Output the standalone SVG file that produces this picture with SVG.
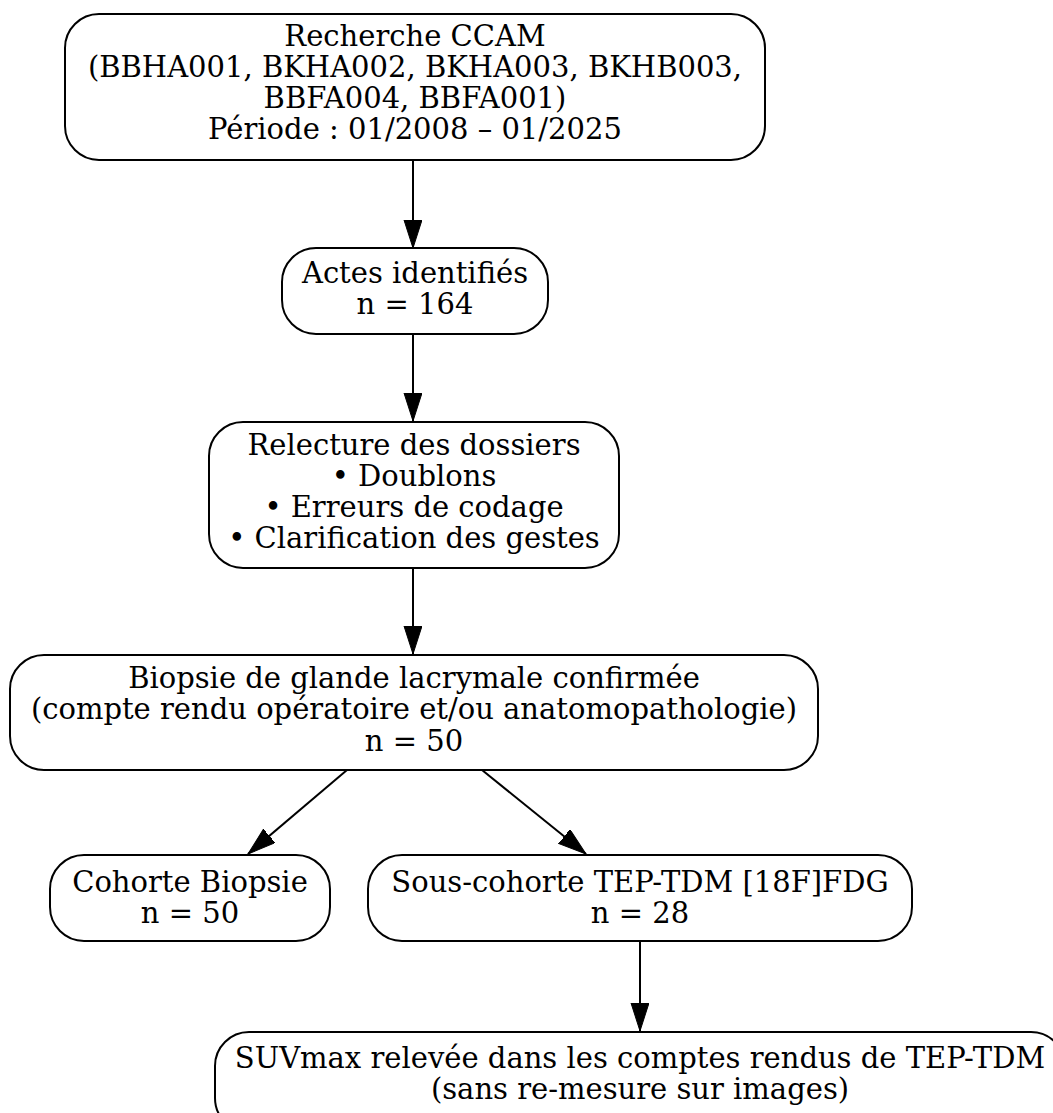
<svg xmlns="http://www.w3.org/2000/svg" width="1053" height="1113" viewBox="0 0 1053 1113">
<defs>
<style>
.n rect{fill:#fff;stroke:#000;stroke-width:2}
.n text{font-family:"DejaVu Serif","Liberation Serif",serif;font-size:29px;fill:#000;text-anchor:middle}
.e line{stroke:#000;stroke-width:2}
</style>
<marker id="ah" markerUnits="userSpaceOnUse" markerWidth="30" markerHeight="20" refX="28" refY="9" orient="auto">
<path d="M0,0 L28,9 L0,18 Z" fill="#000" stroke="#000" stroke-width="1"/>
</marker>
</defs>
<rect width="1053" height="1113" fill="#fff"/>
<g class="e" id="edges">
<line x1="413" y1="160" x2="413" y2="248" marker-end="url(#ah)"/>
<line x1="413" y1="334" x2="413" y2="421" marker-end="url(#ah)"/>
<line x1="413" y1="568" x2="413" y2="654" marker-end="url(#ah)"/>
<line x1="347" y1="770" x2="248" y2="854" marker-end="url(#ah)"/>
<line x1="482" y1="770" x2="586" y2="854" marker-end="url(#ah)"/>
<line x1="640" y1="941" x2="640" y2="1031" marker-end="url(#ah)"/>
</g>
<g class="n" id="n1">
<rect x="65" y="14" width="700" height="146" rx="34"/>
<text x="415" y="46">Recherche CCAM</text>
<text x="415" y="77">(BBHA001, BKHA002, BKHA003, BKHB003,</text>
<text x="415" y="108">BBFA004, BBFA001)</text>
<text x="415" y="139">Période : 01/2008 – 01/2025</text>
</g>
<g class="n" id="n2">
<rect x="282" y="248" width="266" height="86" rx="34"/>
<text x="415" y="283">Actes identifiés</text>
<text x="415" y="314">n = 164</text>
</g>
<g class="n" id="n3">
<rect x="209" y="422" width="410" height="146" rx="34"/>
<text x="414" y="455">Relecture des dossiers</text>
<text x="414" y="486">• Doublons</text>
<text x="414" y="517">• Erreurs de codage</text>
<text x="414" y="548">• Clarification des gestes</text>
</g>
<g class="n" id="n4">
<rect x="10" y="655" width="808" height="115" rx="34"/>
<text x="414" y="688">Biopsie de glande lacrymale confirmée</text>
<text x="414" y="719">(compte rendu opératoire et/ou anatomopathologie)</text>
<text x="414" y="751">n = 50</text>
</g>
<g class="n" id="n5">
<rect x="50" y="855" width="280" height="86" rx="34"/>
<text x="190" y="892">Cohorte Biopsie</text>
<text x="190" y="923">n = 50</text>
</g>
<g class="n" id="n6">
<rect x="368" y="855" width="544" height="86" rx="34"/>
<text x="640" y="892">Sous-cohorte TEP-TDM [18F]FDG</text>
<text x="640" y="923">n = 28</text>
</g>
<g class="n" id="n7">
<rect x="215" y="1032" width="850" height="100" rx="34"/>
<text x="640" y="1068">SUVmax relevée dans les comptes rendus de TEP-TDM</text>
<text x="640" y="1099">(sans re-mesure sur images)</text>
</g>
</svg>
